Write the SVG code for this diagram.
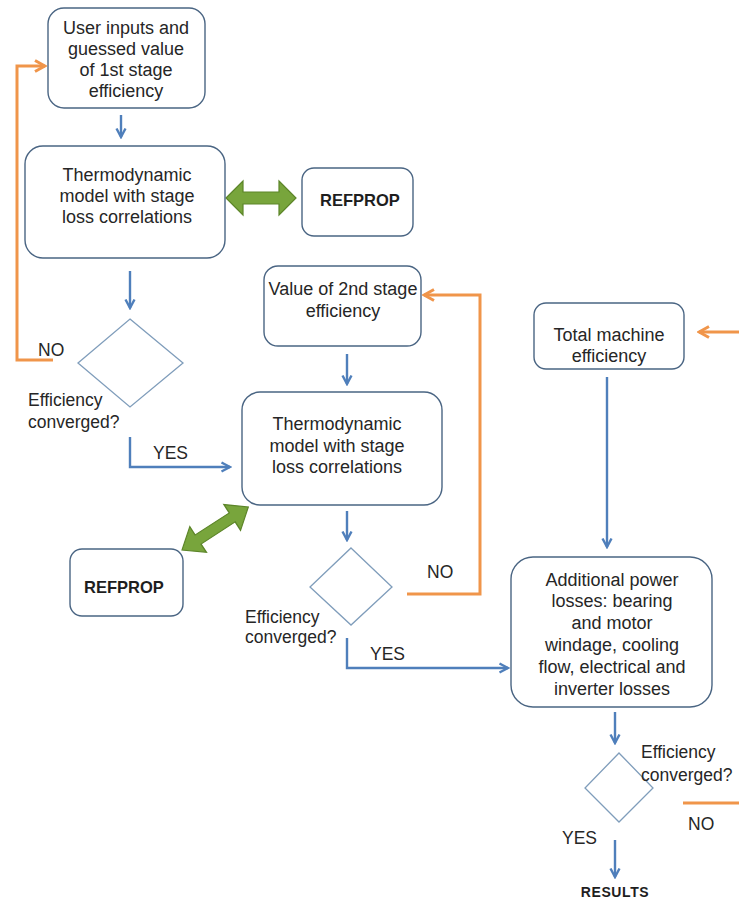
<svg xmlns="http://www.w3.org/2000/svg" width="739" height="901" viewBox="0 0 739 901">
<style>
.box{fill:#fff;stroke:#4a6583;stroke-width:1.4}
.dia{fill:#fff;stroke:#7f9dbb;stroke-width:1.3}
.t{font-family:"Liberation Sans",Arial,sans-serif;font-size:18px;fill:#262626;text-anchor:middle}
.tl{font-family:"Liberation Sans",Arial,sans-serif;font-size:17.5px;fill:#262626}
.b{font-family:"Liberation Sans",Arial,sans-serif;font-size:16.5px;font-weight:bold;fill:#1e1e1e;text-anchor:middle}
.blue{fill:none;stroke:#4f7fbb;stroke-width:2.4}
.org{fill:none;stroke:#f0954a;stroke-width:3}
.grn{fill:#78a53c;stroke:#5c8529;stroke-width:1.2}
</style>
<defs>
<marker id="ab" viewBox="0 0 12 12" refX="10.5" refY="6" markerWidth="12" markerHeight="12" markerUnits="userSpaceOnUse" orient="auto"><path d="M2,1.5 L10.5,6 L2,10.5" fill="none" stroke="#4f7fbb" stroke-width="2.4"/></marker>
<marker id="ao" viewBox="0 0 14 14" refX="12" refY="7" markerWidth="14" markerHeight="14" markerUnits="userSpaceOnUse" orient="auto"><path d="M2,1.5 L12,7 L2,12.5" fill="none" stroke="#f0954a" stroke-width="3"/></marker>
<polygon id="dbl" points="0,0 17,-17 17,-6 53,-6 53,-17 70,0 53,17 53,6 17,6 17,17" class="grn"/>
</defs>
<rect width="739" height="901" fill="#fff"/>
<g id="connectors">
<path class="blue" d="M121,115 V137" marker-end="url(#ab)"/>
<path class="blue" d="M130,271 V308" marker-end="url(#ab)"/>
<path class="blue" d="M130,437 V467 H230" marker-end="url(#ab)"/>
<path class="blue" d="M347,354 V384" marker-end="url(#ab)"/>
<path class="blue" d="M347,511 V540" marker-end="url(#ab)"/>
<path class="blue" d="M347,638 V668 H508" marker-end="url(#ab)"/>
<path class="blue" d="M607,377 V547" marker-end="url(#ab)"/>
<path class="blue" d="M615,712 V743" marker-end="url(#ab)"/>
<path class="blue" d="M615,840 V877" marker-end="url(#ab)"/>
<path class="org" d="M53,360 H17 V66 H45" marker-end="url(#ao)"/>
<path class="org" d="M407,594 H480 V295 H424" marker-end="url(#ao)"/>
<path class="org" d="M739,332 H699" marker-end="url(#ao)"/>
<path class="org" d="M683,803 H739"/>
<use href="#dbl" transform="translate(226,198)"/>
<use href="#dbl" transform="translate(182,550) rotate(-33) scale(1.13,0.9)"/>
</g>
<g id="n1">
<rect class="box" x="48" y="8" width="157" height="100" rx="16"/>
<text class="t" x="126" y="34">User inputs and</text>
<text class="t" x="126" y="55">guessed value</text>
<text class="t" x="126" y="76">of 1st stage</text>
<text class="t" x="126" y="97">efficiency</text>
</g>
<g id="n2">
<rect class="box" x="25" y="146" width="200" height="112" rx="18"/>
<text class="t" x="127" y="181">Thermodynamic</text>
<text class="t" x="127" y="202">model with stage</text>
<text class="t" x="127" y="223">loss correlations</text>
</g>
<g id="refprop1">
<rect class="box" x="302" y="168" width="111" height="68" rx="12"/>
<text class="b" x="360" y="206">REFPROP</text>
</g>
<g id="d1">
<polygon class="dia" points="130,319 183,363 130,407 78,363"/>
<text class="tl" x="38" y="356">NO</text>
<text class="tl" x="28" y="406">Efficiency</text>
<text class="tl" x="28" y="428">converged?</text>
<text class="tl" x="153" y="459">YES</text>
</g>
<g id="n3">
<rect class="box" x="264" y="266" width="157" height="80" rx="14"/>
<text class="t" x="343" y="295">Value of 2nd stage</text>
<text class="t" x="343" y="317">efficiency</text>
</g>
<g id="n4">
<rect class="box" x="242" y="392" width="200" height="113" rx="18"/>
<text class="t" x="337" y="430">Thermodynamic</text>
<text class="t" x="337" y="452">model with stage</text>
<text class="t" x="337" y="473">loss correlations</text>
</g>
<g id="refprop2">
<rect class="box" x="70" y="549" width="113" height="67" rx="12"/>
<text class="b" x="124" y="593">REFPROP</text>
</g>
<g id="d2">
<polygon class="dia" points="351,548 392,587 351,625 310,587"/>
<text class="tl" x="427" y="578">NO</text>
<text class="tl" x="245" y="623">Efficiency</text>
<text class="tl" x="245" y="643">converged?</text>
<text class="tl" x="370" y="660">YES</text>
</g>
<g id="n5">
<rect class="box" x="534" y="303" width="150" height="66" rx="12"/>
<text class="t" x="609" y="341">Total machine</text>
<text class="t" x="609" y="362">efficiency</text>
</g>
<g id="n6">
<rect class="box" x="511" y="557" width="201" height="150" rx="22"/>
<text class="t" x="612" y="586">Additional power</text>
<text class="t" x="612" y="607">losses: bearing</text>
<text class="t" x="612" y="629">and motor</text>
<text class="t" x="612" y="651">windage, cooling</text>
<text class="t" x="612" y="673">flow, electrical and</text>
<text class="t" x="612" y="695">inverter losses</text>
</g>
<g id="d3">
<polygon class="dia" points="619,753 653,788 619,822 585,788"/>
<text class="tl" x="641" y="758">Efficiency</text>
<text class="tl" x="641" y="781">converged?</text>
<text class="tl" x="688" y="830">NO</text>
<text class="tl" x="562" y="844">YES</text>
</g>
<g id="results">
<text class="b" x="615" y="897" style="font-size:14px;letter-spacing:0.6px">RESULTS</text>
</g>
</svg>
